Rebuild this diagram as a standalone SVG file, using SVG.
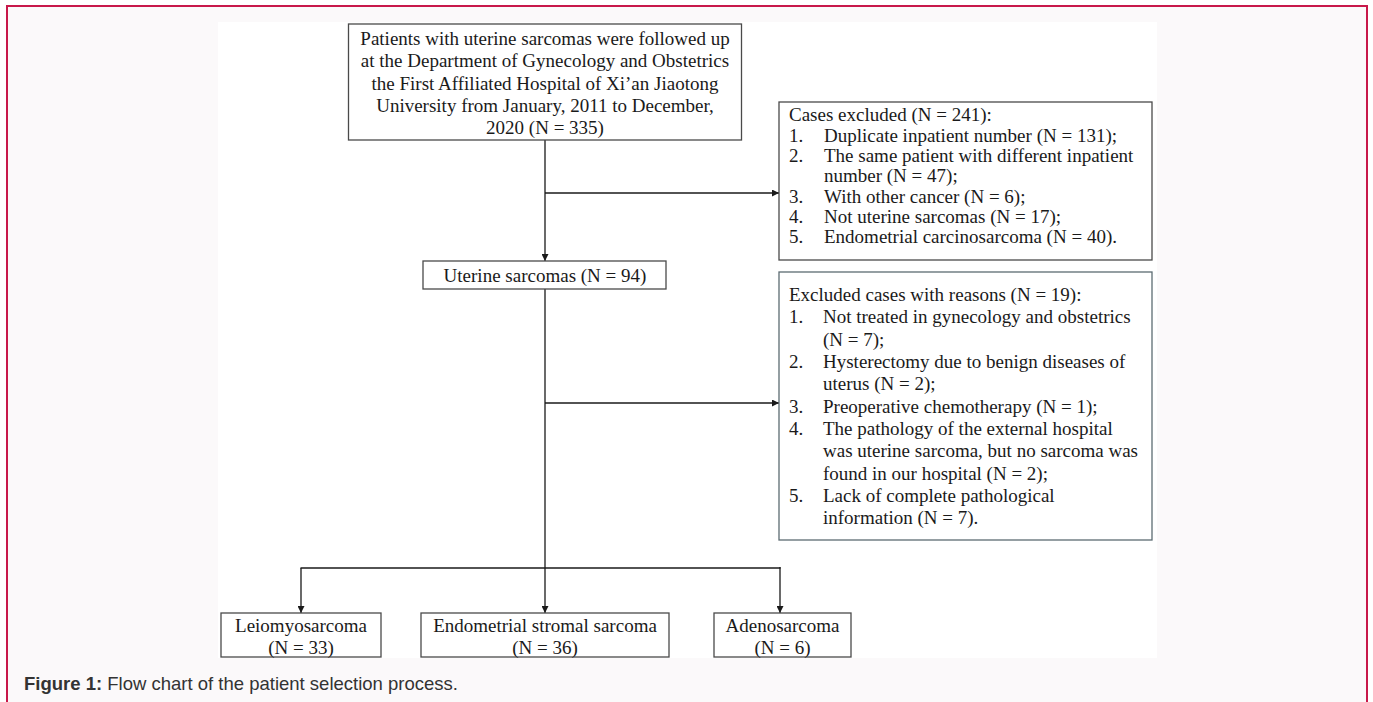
<svg xmlns="http://www.w3.org/2000/svg" width="1373" height="702" viewBox="0 0 1373 702">
  <defs>
    <style>
      .box { fill: #ffffff; stroke: #4a4a4a; stroke-width: 1.3; }
      .box2 { fill: #ffffff; stroke: #5c6c72; stroke-width: 1.3; }
      .t { font-family: "Liberation Serif", "Times New Roman", serif; font-size: 19px; fill: #1a1a1a; }
      .c { text-anchor: middle; }
      .conn { fill: none; stroke: #1a1a1a; stroke-width: 1.3; }
      .cap { font-family: "Liberation Sans", Arial, sans-serif; font-size: 18.5px; fill: #333333; }
    </style>
    <marker id="arr" viewBox="0 0 10 10" refX="10" refY="5" markerWidth="7" markerHeight="7" markerUnits="userSpaceOnUse" orient="auto">
      <path d="M0,0 L10,5 L0,10 z" fill="#1a1a1a"/>
    </marker>
  </defs>

  <!-- page background and frame -->
  <rect x="0" y="0" width="1373" height="702" fill="#ffffff"/>
  <rect x="7" y="6" width="1360" height="700" fill="#fbf9fa"/>
  <rect x="218" y="22" width="939" height="636" fill="#ffffff"/>
  <path d="M7,702 L7,6 L1367,6 L1367,702" fill="none" stroke="#c8184a" stroke-width="2"/>

  <!-- connectors -->
  <g id="connectors">
    <line class="conn" x1="545" y1="140" x2="545" y2="261" marker-end="url(#arr)"/>
    <line class="conn" x1="545" y1="193" x2="779" y2="193" marker-end="url(#arr)"/>
    <line class="conn" x1="545" y1="289" x2="545" y2="613" marker-end="url(#arr)"/>
    <line class="conn" x1="545" y1="403" x2="779" y2="403" marker-end="url(#arr)"/>
    <line class="conn" x1="300.5" y1="568" x2="780.5" y2="568"/>
    <line class="conn" x1="301" y1="568" x2="301" y2="613" marker-end="url(#arr)"/>
    <line class="conn" x1="780" y1="567" x2="780" y2="613" marker-end="url(#arr)"/>
  </g>

  <g id="node-start">
    <rect class="box" x="348.5" y="24" width="393" height="116"/>
    <text class="t c" x="545" y="44.5">Patients with uterine sarcomas were followed up</text>
    <text class="t c" x="545" y="67">at the Department of Gynecology and Obstetrics</text>
    <text class="t c" x="545" y="89.5">the First Affiliated Hospital of Xi’an Jiaotong</text>
    <text class="t c" x="545" y="112">University from January, 2011 to December,</text>
    <text class="t c" x="545" y="134">2020 (N = 335)</text>
  </g>

  <g id="node-excluded1">
    <rect class="box" x="779" y="102" width="373" height="158"/>
    <text class="t" x="789" y="121">Cases excluded (N = 241):</text>
    <text class="t" x="789" y="141.5">1.</text><text class="t" x="824" y="141.5">Duplicate inpatient number (N = 131);</text>
    <text class="t" x="789" y="162">2.</text><text class="t" x="824" y="162">The same patient with different inpatient</text>
    <text class="t" x="824" y="182">number (N = 47);</text>
    <text class="t" x="789" y="202.5">3.</text><text class="t" x="824" y="202.5">With other cancer (N = 6);</text>
    <text class="t" x="789" y="222.5">4.</text><text class="t" x="824" y="222.5">Not uterine sarcomas (N = 17);</text>
    <text class="t" x="789" y="242.5">5.</text><text class="t" x="824" y="242.5">Endometrial carcinosarcoma (N = 40).</text>
  </g>

  <g id="node-uterine">
    <rect class="box" x="423" y="261" width="243" height="28"/>
    <text class="t c" x="545" y="282">Uterine sarcomas (N = 94)</text>
  </g>

  <g id="node-excluded2">
    <rect class="box2" x="779" y="272" width="373" height="268"/>
    <text class="t" x="789" y="301">Excluded cases with reasons (N = 19):</text>
    <text class="t" x="789" y="323">1.</text><text class="t" x="823" y="323">Not treated in gynecology and obstetrics</text>
    <text class="t" x="823" y="345.5">(N = 7);</text>
    <text class="t" x="789" y="368">2.</text><text class="t" x="823" y="368">Hysterectomy due to benign diseases of</text>
    <text class="t" x="823" y="390">uterus (N = 2);</text>
    <text class="t" x="789" y="412.5">3.</text><text class="t" x="823" y="412.5">Preoperative chemotherapy (N = 1);</text>
    <text class="t" x="789" y="435">4.</text><text class="t" x="823" y="435">The pathology of the external hospital</text>
    <text class="t" x="823" y="457">was uterine sarcoma, but no sarcoma was</text>
    <text class="t" x="823" y="479.5">found in our hospital (N = 2);</text>
    <text class="t" x="789" y="502">5.</text><text class="t" x="823" y="502">Lack of complete pathological</text>
    <text class="t" x="823" y="524">information (N = 7).</text>
  </g>

  <g id="node-leio">
    <rect class="box" x="221" y="613" width="160" height="44"/>
    <text class="t c" x="301" y="632">Leiomyosarcoma</text>
    <text class="t c" x="301" y="654">(N = 33)</text>
  </g>

  <g id="node-ess">
    <rect class="box" x="421" y="613" width="248" height="44"/>
    <text class="t c" x="545" y="632">Endometrial stromal sarcoma</text>
    <text class="t c" x="545" y="654">(N = 36)</text>
  </g>

  <g id="node-adeno">
    <rect class="box" x="714" y="613" width="137" height="44"/>
    <text class="t c" x="782.5" y="632">Adenosarcoma</text>
    <text class="t c" x="782.5" y="654">(N = 6)</text>
  </g>

  <text class="cap" x="24" y="690"><tspan font-weight="bold">Figure 1:</tspan> Flow chart of the patient selection process.</text>
</svg>
